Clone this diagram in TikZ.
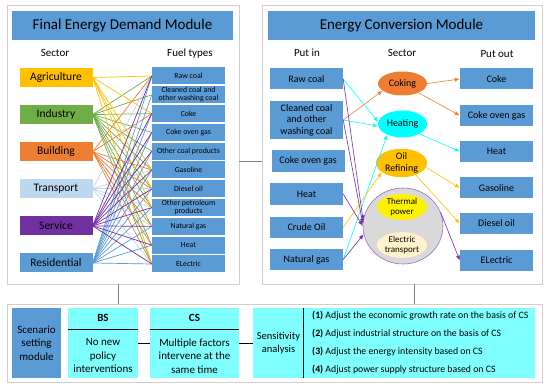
\documentclass[tikz,border=0pt]{standalone}
\usepackage{fontspec}
\setmainfont{Carlito}
\usetikzlibrary{shapes.geometric,arrows.meta}
\definecolor{boxblue}{HTML}{5B9BD5}
\definecolor{agrigold}{HTML}{FFC000}
\definecolor{indgreen}{HTML}{70AD47}
\definecolor{bldorange}{HTML}{ED7D31}
\definecolor{trlight}{HTML}{BDD7EE}
\definecolor{srvpurple}{HTML}{7030A0}
\definecolor{heatcyan}{HTML}{00FFFF}
\definecolor{softcyan}{HTML}{80FFFF}
\definecolor{gridgray}{HTML}{D9D9D9}
\definecolor{cream}{HTML}{FFF2CC}
\definecolor{framegray}{HTML}{D0CECE}
\tikzset{
  panel/.style={draw=framegray, line width=0.8pt, fill=white, inner sep=0},
  titlebar/.style={fill=boxblue, minimum height=29, inner sep=0, font=\fontsize{15}{17}\selectfont},
  head/.style={font=\fontsize{11}{13}\selectfont},
  sectorbox/.style={minimum width=73, minimum height=19, inner sep=0, font=\fontsize{11.5}{13}\selectfont},
  fuelbox/.style={fill=boxblue, minimum width=73, minimum height=17, inner sep=0, align=center, font=\fontsize{7.8}{8}\selectfont},
  iobox/.style={fill=boxblue, minimum width=73, minimum height=21, inner sep=0, align=center, font=\fontsize{10}{11.5}\selectfont},
  plant/.style={ellipse, minimum width=49, minimum height=24, inner sep=0, align=center, font=\fontsize{10}{11.5}\selectfont},
  arr/.style={-{Latex[length=5pt,width=4pt]}, line width=0.6pt},
  scenbox/.style={fill=softcyan, minimum height=70, inner sep=0, align=center, font=\fontsize{11}{13.5}\selectfont}
}
\begin{document}
\begin{tikzpicture}[x=1pt, y=-1pt]
	\useasboundingbox [fill=white] (0,0) rectangle (550,387);
	% panels
	\node [panel, minimum width=232, minimum height=279] (lp) at (123,144.5) {};
	\node [panel, minimum width=280, minimum height=279] (rp) at (402,144.5) {};
	\node [panel, minimum width=535, minimum height=78] (bp) at (274.5,343) {};
	\node [titlebar, minimum width=221] (lt) at (122.5,25.5) {Final Energy Demand Module};
	\node [titlebar, minimum width=267] (rt) at (401.5,25.5) {Energy Conversion Module};
	% final energy demand module
	\node [head] (hs) at (55,53) {Sector};
	\node [head] (hf) at (190,54) {Fuel types};
	\foreach \t/\c [count=\i] in {Agriculture/agrigold, Industry/indgreen, Building/bldorange, Transport/trlight, Service/srvpurple, Residential/boxblue}
		\node [sectorbox, fill=\c] (s\i) at (56, {77.5+(\i-1)*37.1}) {\t};
	\foreach \t [count=\i] in {Raw coal, {Cleaned coal and\\other washing coal}, Coke, Coke oven gas, Other coal products, Gasoline, Diesel oil, {Other petroleum\\products}, Natural gas, Heat, ELectric}
		\node [fuelbox] (f\i) at (188.5, {76+(\i-1)*18.8}) {\t};
	\foreach \s/\c/\l in {2/indgreen/{1,...,11}, 1/agrigold/{1,3,6,7,8,11}, 3/bldorange/{1,3,6,7,8,9,10,11}, 4/trlight/{1,6,7,8,9,11}, 6/boxblue/{1,...,11}, 5/srvpurple/{1,3,4,5,6,7,8,9,10,11}}
		\foreach \f in \l
			\draw [\c, line width=0.7pt] (s\s.east) -- (f\f.west);
	% energy conversion module
	\node [head] (hp) at (307,53) {Put in};
	\node [head] (hc) at (402,53) {Sector};
	\node [head] (ho) at (497,54) {Put out};
	\node [iobox] (in1) at (306.5,79) {Raw coal};
	\node [iobox, minimum height=38] (in2) at (306.5,120) {Cleaned coal\\and other\\washing coal};
	\node [iobox, minimum height=22] (in3) at (308,161) {Coke oven gas};
	\node [iobox, minimum height=22] (in4) at (306.5,194) {Heat};
	\node [iobox] (in5) at (306.5,227.5) {Crude Oil};
	\node [iobox] (in6) at (306.5,259.5) {Natural gas};
	\node [iobox] (out1) at (496.5,79) {Coke};
	\node [iobox] (out2) at (496.5,115.5) {Coke oven gas};
	\node [iobox] (out3) at (496.5,151.5) {Heat};
	\node [iobox] (out4) at (496.5,188) {Gasoline};
	\node [iobox] (out5) at (496.5,223.5) {Diesel oil};
	\node [iobox] (out6) at (496.5,260.5) {ELectric};
	\node [plant, fill=bldorange] (coking) at (402.5,83.5) {Coking};
	\node [plant, fill=heatcyan, minimum height=27] (heating) at (402.5,124) {Heating};
	\node [plant, fill=agrigold, minimum width=51, minimum height=28] (oil) at (401.5,163) {Oil\\Refining};
	\node [ellipse, draw=srvpurple!70, fill=gridgray, line width=0.6pt, minimum width=80, minimum height=76, inner sep=0] (grid) at (403,226) {};
	\node [plant, fill=yellow, minimum width=50, minimum height=23, font=\fontsize{9}{10.5}\selectfont] (thermal) at (402,207) {Thermal\\power};
	\node [plant, fill=cream, minimum width=50, minimum height=24, font=\fontsize{9}{10.5}\selectfont] (etrans) at (402,245) {Electric\\transport};
	\draw [arr, heatcyan] (in1.east) -- (heating.175);
	\draw [arr, heatcyan] (in2.east) -- (heating.185);
	\draw [arr, heatcyan] (in6.east) -- (heating.215);
	\draw [arr, bldorange] (in2.east) -- (coking.200);
	\draw [arr, agrigold] (in5.east) -- (oil.205);
	\draw [arr, srvpurple] (in1.east) -- (grid.172);
	\draw [arr, srvpurple] (in2.east) -- (grid.177);
	\draw [arr, srvpurple] (in4.east) -- (grid.180);
	\draw [arr, srvpurple] (in6.east) -- (grid.192);
	\draw [arr, bldorange] (coking.east) -- (out1.west);
	\draw [arr, bldorange] (coking.330) -- (out2.west);
	\draw [arr, heatcyan] (heating.330) -- (out3.west);
	\draw [arr, agrigold] (oil.350) -- (out4.west);
	\draw [arr, agrigold] (oil.320) -- (out5.west);
	\draw [arr, srvpurple] (grid.20) -- (out6.west);
	% links between modules
	\draw [gray, line width=0.8pt] (lp.east |- in3) -- (rp.west |- in3);
	\draw [gray, line width=0.8pt] ([xshift=-5pt]lp.south) -- ([xshift=-5pt]lp.south |- bp.north);
	\draw [gray, line width=0.8pt] ([xshift=12pt]rp.south) -- ([xshift=12pt]rp.south |- bp.north);
	% scenario setting module
	\node [scenbox, fill=boxblue, minimum width=49] (scen) at (36.5,343) {Scenario\\setting\\module};
	\node [scenbox, minimum width=70] (bs) at (103,343) {};
	\node [scenbox, minimum width=89] (cs) at (194.5,343) {};
	\node [scenbox, minimum width=282] (sens) at (394,343) {};
	\node [font=\fontsize{11}{13}\bfseries] (bsh) at (103,318) {BS};
	\node [font=\fontsize{11}{13}\bfseries] (csh) at (194.5,318) {CS};
	\draw [line width=0.8pt] ([yshift=-22pt]bs.north west) -- ([yshift=-22pt]bs.north east);
	\draw [line width=0.8pt] ([yshift=-22pt]cs.north west) -- ([yshift=-22pt]cs.north east);
	\node [align=center, font=\fontsize{11}{13.5}\selectfont] (bst) at (103,356) {No new\\policy\\interventions};
	\node [align=center, font=\fontsize{11}{13.5}\selectfont] (cst) at (194.5,356) {Multiple factors\\intervene at the\\same time};
	\node [align=center, font=\fontsize{10.5}{13.5}\selectfont] (senst) at (278.5,343) {Sensitivity\\analysis};
	\draw [line width=0.8pt] ([xshift=51pt]sens.north west) -- ([xshift=51pt]sens.south west);
	\foreach \t [count=\i] in {Adjust the economic growth rate on the basis of CS, Adjust industrial structure on the basis of CS, Adjust the energy intensity based on CS, Adjust power supply structure based on CS}
		\node [anchor=west, inner sep=0, font=\fontsize{9.8}{11}\selectfont] (it\i) at (312, {316+(\i-1)*18}) {\textbf{(\i)} \t};
	\draw [line width=0.8pt] (bs) -- (cs);
	\draw [line width=0.8pt] (cs) -- (sens);
\end{tikzpicture}
\end{document}
